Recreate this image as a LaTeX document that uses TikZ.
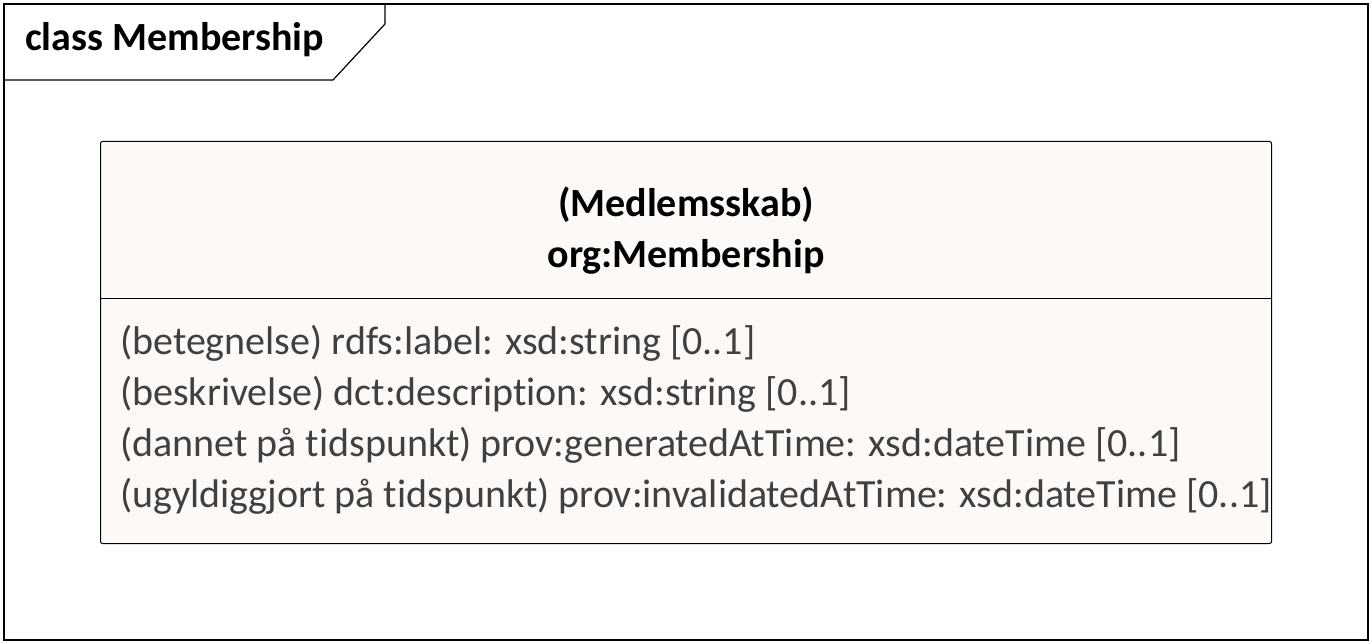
\documentclass[tikz,border=0pt]{standalone}
\usepackage{fontspec}
\setmainfont{Carlito}[Ligatures=NoCommon]
\usepackage{xcolor}
\definecolor{umlframe}{RGB}{0,0,0}
\definecolor{umlfill}{RGB}{253,249,246}
\definecolor{umltext}{RGB}{64,64,64}
\usetikzlibrary{positioning}

\tikzset{
  umlhead/.style={font=\fontsize{40}{48}\selectfont\bfseries, anchor=base, inner sep=0pt},
  umlattr/.style={font=\fontsize{40}{48}\selectfont, text=umltext, anchor=base west, inner sep=0pt}
}

\begin{document}
\begin{tikzpicture}[x=1pt, y=-1pt]
\useasboundingbox (0,0) rectangle (1372,644);

% ===== FRAME (outer) =====
\draw[umlframe, line width=1.2pt] (4,4) rectangle (1368,640);
\draw[umlframe, line width=1.2pt] (4,80) -- (333,80) -- (385,24) -- (385,4);
\node[umlhead, anchor=base west] (frametitle) at (25,51) {class Membership};

% ===== CLASS BOX =====
\node[draw=umlframe, fill=umlfill, line width=1pt, rounded corners=2pt,
      minimum width=1171pt, minimum height=402pt, inner sep=0pt, anchor=north west]
      (cls) at (100,141) {};
\draw[umlframe, line width=1pt] (cls.west |- 0,298) -- (cls.east |- 0,298);

% Class name
\node[umlhead] (stereo) at (686,217) {(Medlemsskab)};
\node[umlhead] (clsname) at (686,267) {org:Membership};

% Attributes
\node[umlattr] (attr1) at (120,354) {(betegnelse) rdfs:label: xsd:string [0..1]};
\node[umlattr] (attr2) at (120,405) {(beskrivelse) dct:description: xsd:string [0..1]};
\node[umlattr] (attr3) at (120,456) {(dannet på tidspunkt) prov:generatedAtTime: xsd:dateTime [0..1]};
\node[umlattr] (attr4) at (120,507) {(ugyldiggjort på tidspunkt) prov:invalidatedAtTime: xsd:dateTime [0..1]};

\end{tikzpicture}
\end{document}
